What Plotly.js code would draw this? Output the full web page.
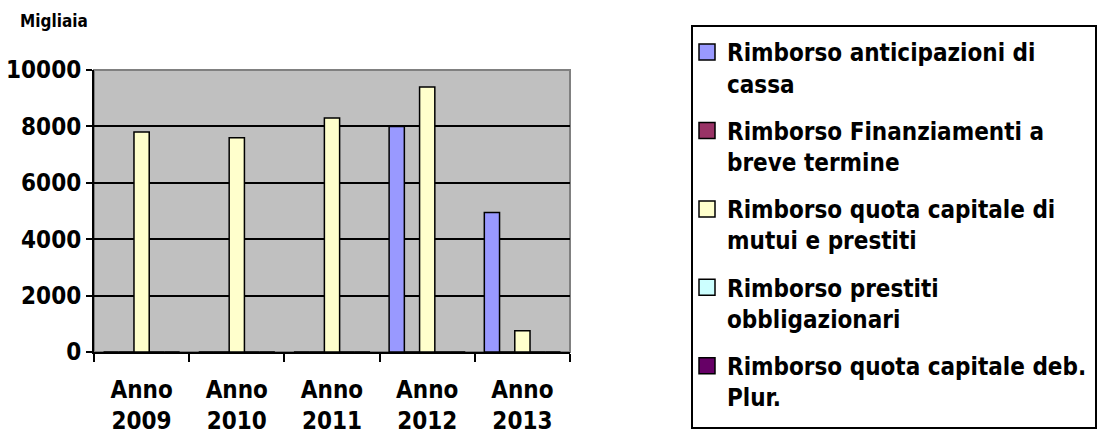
<!DOCTYPE html>
<html>
<head>
<meta charset="utf-8">
<script src="https://cdn.plot.ly/plotly-3.0.1.min.js"></script>
<style>html,body{margin:0;padding:0;background:#fff;}#chart{width:1098px;height:439px;}</style>
</head>
<body>
<div id="chart"></div>
<script>
const categories = ["Anno<br>2009", "Anno<br>2010", "Anno<br>2011", "Anno<br>2012", "Anno<br>2013"];
const seriesNames = [
  "Rimborso anticipazioni di<br>cassa",
  "Rimborso Finanziamenti a<br>breve termine",
  "Rimborso quota capitale di<br>mutui e prestiti",
  "Rimborso prestiti<br>obbligazionari",
  "Rimborso quota capitale deb.<br>Plur."
];
const anticipazioni = [0, 0, 0, 8000, 4950];
const finanziamenti = [0, 0, 0, 0, 0];
const mutui = [7800, 7600, 8300, 9400, 750];
const obbligazionari = [0, 0, 0, 0, 0];
const debPlur = [0, 0, 0, 0, 0];
const yTicks = [0, 2000, 4000, 6000, 8000, 10000];
const colors = ["#9999FF", "#993366", "#FFFFCC", "#CCFFFF", "#660066"];

const seriesValues = [anticipazioni, finanziamenti, mutui, obbligazionari, debPlur];
const FONT = "DejaVu Sans Condensed, DejaVu Sans, sans-serif";

const traces = seriesValues.map((vals, i) => ({
  type: "bar",
  x: categories,
  y: vals,
  name: seriesNames[i],
  legendgroup: "g" + i,
  showlegend: false,
  marker: {color: colors[i], line: {color: "#000", width: 1.5}},
  hoverinfo: "y"
}));
// legend-only entries (square swatches like the original)
seriesNames.forEach((nm, i) => traces.push({
  type: "scatter", mode: "markers",
  x: [null], y: [null],
  name: nm,
  legendgroup: "g" + i,
  showlegend: true,
  marker: {symbol: "square", size: 16, color: colors[i], line: {color: "#000", width: 1.5}},
  hoverinfo: "skip"
}));

const W = 1098, H = 439;
const plotL = 94, plotR = 570, plotT = 70, plotB = 352;
const pw = plotR - plotL, ph = plotB - plotT;
const px = X => (X - plotL) / pw;
const py = Y => (plotB - Y) / ph;

const layout = {
  width: W, height: H,
  margin: {l: plotL, r: W - plotR, t: plotT, b: H - plotB, pad: 0, autoexpand: false},
  paper_bgcolor: "#fff",
  plot_bgcolor: "#C0C0C0",
  barmode: "group",
  bargap: 0.2,
  bargroupgap: 0,
  showlegend: true,
  font: {family: FONT, color: "#000", size: 24, weight: "bold"},
  xaxis: {
    type: "category",
    categoryarray: categories,
    tickson: "boundaries",
    ticks: "outside", ticklen: 8, tickwidth: 2, tickcolor: "#000",
    showline: true, linecolor: "#000", linewidth: 2,
    showgrid: false,
    tickfont: {family: FONT, size: 24, weight: "bold", color: "#000"},
    ticklabelstandoff: 15,
    fixedrange: true
  },
  yaxis: {
    range: [0, 10000],
    tickvals: yTicks,
    ticktext: yTicks.map(String),
    ticks: "outside", ticklen: 6, tickwidth: 2, tickcolor: "#000",
    showline: true, linecolor: "#000", linewidth: 2,
    showgrid: true, gridcolor: "#000", gridwidth: 2,
    zeroline: false,
    tickfont: {family: FONT, size: 24, weight: "bold", color: "#000"},
    fixedrange: true
  },
  legend: {
    xref: "container", yref: "container",
    x: 687 / W, y: 1 - 30 / H, xanchor: "left", yanchor: "top",
    bgcolor: "rgba(0,0,0,0)",
    borderwidth: 0,
    maxheight: 1,
    valign: "top",
    font: {family: FONT, size: 24, weight: "bold", color: "#000"},
    tracegroupgap: 13,
    itemwidth: 30,
    traceorder: "grouped"
  },
  shapes: [
    {type: "rect", xref: "paper", yref: "paper", x0: 0, x1: 1, y0: 0, y1: 1,
     line: {color: "#808080", width: 2}, fillcolor: "rgba(0,0,0,0)", layer: "below"},
    {type: "rect", xref: "paper", yref: "paper", x0: px(692), x1: px(1096), y0: py(428), y1: py(26),
     line: {color: "#000", width: 2}, fillcolor: "rgba(0,0,0,0)"}
  ],
  annotations: [
    {text: "Migliaia", xref: "paper", yref: "paper", x: px(18), y: py(21),
     xanchor: "left", yanchor: "middle", showarrow: false,
     font: {family: FONT, size: 17, weight: "bold", color: "#000"}}
  ]
};

Plotly.newPlot("chart", traces, layout, {displayModeBar: false, staticPlot: true});
</script>
</body>
</html>
